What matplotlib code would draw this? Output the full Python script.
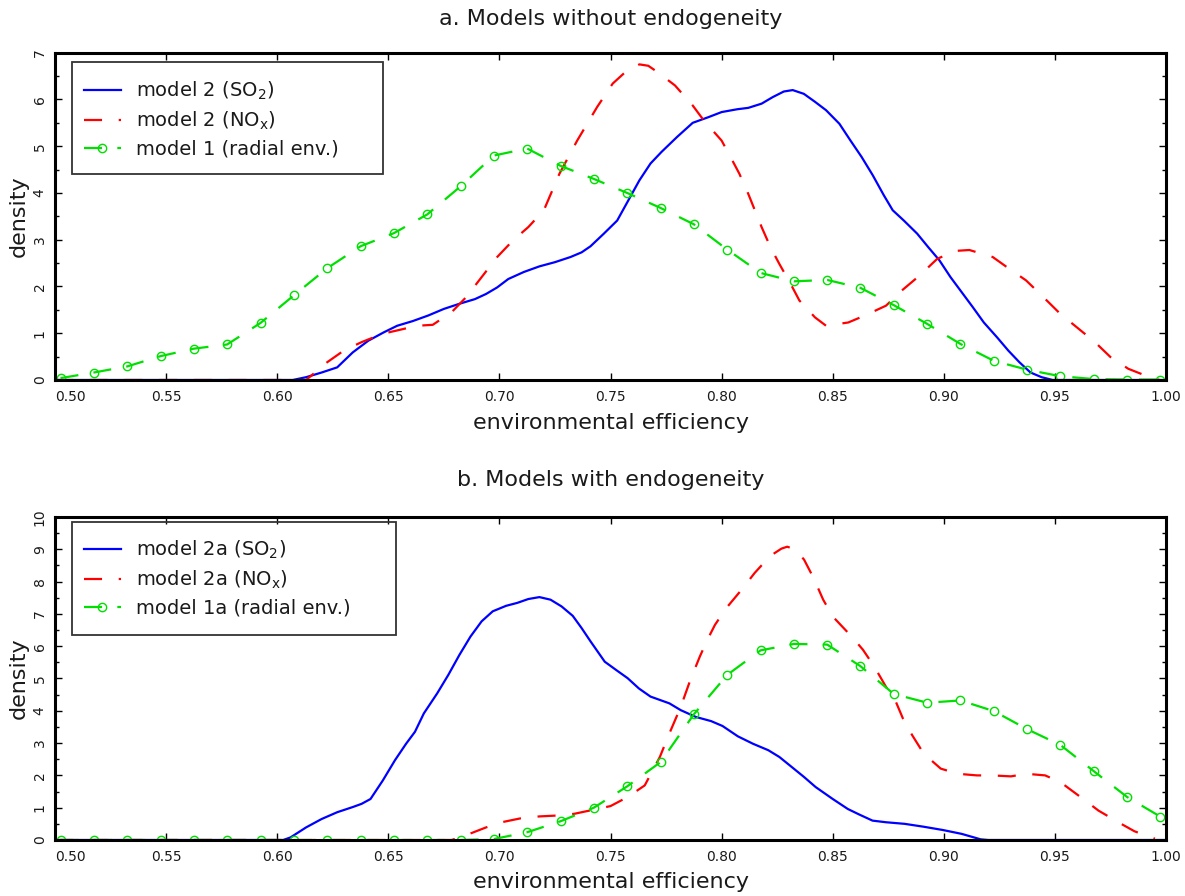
import matplotlib
matplotlib.use("Agg")
import matplotlib.pyplot as plt
from matplotlib.patches import Rectangle
from matplotlib.ticker import MultipleLocator

plt.rcParams["font.family"] = ["DejaVu Sans"]
plt.rcParams["lines.scale_dashes"] = False

# ---- panel a: models without endogeneity ----
a_so2_x = [0.500, 0.607, 0.613, 0.620, 0.627, 0.634, 0.641, 0.648, 0.654, 0.661, 0.668, 0.675,
           0.682, 0.689, 0.694, 0.699, 0.704, 0.711, 0.718, 0.725, 0.732, 0.737, 0.741, 0.747,
           0.753, 0.758, 0.763, 0.768, 0.773, 0.780, 0.787, 0.794, 0.800, 0.807, 0.812, 0.818,
           0.823, 0.828, 0.832, 0.837, 0.842, 0.847, 0.853, 0.858, 0.863, 0.868, 0.873, 0.877,
           0.882, 0.888, 0.893, 0.898, 0.903, 0.908, 0.913, 0.918, 0.924, 0.929, 0.934, 0.939,
           0.944, 0.949, 1.000]
a_so2_y = [0.00, 0.00, 0.06, 0.16, 0.27, 0.59, 0.84, 1.02, 1.16, 1.26, 1.38, 1.52,
           1.63, 1.73, 1.84, 1.98, 2.16, 2.31, 2.43, 2.52, 2.63, 2.73, 2.86, 3.13,
           3.41, 3.84, 4.27, 4.63, 4.88, 5.20, 5.50, 5.62, 5.73, 5.79, 5.82, 5.91,
           6.05, 6.17, 6.20, 6.12, 5.95, 5.77, 5.48, 5.12, 4.77, 4.38, 3.95, 3.63,
           3.41, 3.13, 2.84, 2.56, 2.20, 1.88, 1.56, 1.23, 0.91, 0.63, 0.38, 0.16,
           0.06, 0.00, 0.00]

a_nox_x = [0.500, 0.613, 0.6225, 0.630, 0.638, 0.6475, 0.654, 0.663, 0.670, 0.6785, 0.685, 0.692,
           0.699, 0.706, 0.713, 0.720, 0.727, 0.735, 0.744, 0.751, 0.757, 0.763, 0.767, 0.771,
           0.779, 0.787, 0.792, 0.800, 0.804, 0.808, 0.812, 0.818, 0.822, 0.826, 0.831, 0.835,
           0.842, 0.847, 0.857, 0.8645, 0.874, 0.881, 0.889, 0.897, 0.905, 0.9115, 0.922, 0.9285,
           0.937, 0.944, 0.9525, 0.959, 0.968, 0.975, 0.983, 0.991, 0.997]
a_nox_y = [0.00, 0.00, 0.38, 0.63, 0.81, 0.99, 1.06, 1.16, 1.18, 1.45, 1.77, 2.20,
           2.63, 2.98, 3.27, 3.63, 4.41, 5.12, 5.84, 6.34, 6.60, 6.75, 6.72, 6.59,
           6.30, 5.87, 5.55, 5.12, 4.77, 4.41, 3.98, 3.27, 2.84, 2.48, 2.06, 1.70,
           1.34, 1.16, 1.23, 1.38, 1.59, 1.91, 2.23, 2.59, 2.76, 2.78, 2.63, 2.41,
           2.13, 1.81, 1.41, 1.16, 0.81, 0.49, 0.24, 0.09, 0.00]

grid_x = [0.5025, 0.5175, 0.5325, 0.5475, 0.5625, 0.5775, 0.5925, 0.6075, 0.6225, 0.6375,
          0.6525, 0.6675, 0.6825, 0.6975, 0.7125, 0.7275, 0.7425, 0.7575, 0.7725, 0.7875,
          0.8025, 0.8175, 0.8325, 0.8475, 0.8625, 0.8775, 0.8925, 0.9075, 0.9225, 0.9375,
          0.9525, 0.9675, 0.9825, 0.9975]
a_rad_y = [0.04, 0.16, 0.29, 0.51, 0.67, 0.76, 1.22, 1.81, 2.39, 2.86,
           3.14, 3.54, 4.14, 4.80, 4.95, 4.58, 4.30, 4.00, 3.68, 3.33,
           2.79, 2.29, 2.11, 2.14, 1.97, 1.60, 1.20, 0.77, 0.41, 0.22,
           0.08, 0.02, 0.01, 0.01]

# ---- panel b: models with endogeneity ----
b_so2_x = [0.500, 0.6027, 0.606, 0.613, 0.620, 0.627, 0.634, 0.638, 0.642, 0.6475, 0.653, 0.658,
           0.662, 0.666, 0.672, 0.677, 0.682, 0.687, 0.692, 0.697, 0.703, 0.708, 0.713, 0.718,
           0.723, 0.728, 0.733, 0.737, 0.741, 0.7474, 0.7526, 0.7577, 0.7628, 0.768, 0.7765, 0.7816,
           0.7884, 0.7953, 0.8004, 0.8073, 0.8141, 0.821, 0.826, 0.8312, 0.8371, 0.8423, 0.850, 0.8568,
           0.8619, 0.8679, 0.8739, 0.8824, 0.891, 0.8995, 0.908, 0.9166, 0.920, 1.000]
b_so2_y = [0.00, 0.00, 0.08, 0.39, 0.65, 0.86, 1.02, 1.12, 1.27, 1.84, 2.47, 2.98,
           3.35, 3.92, 4.54, 5.11, 5.73, 6.30, 6.77, 7.08, 7.25, 7.34, 7.46, 7.52,
           7.44, 7.23, 6.94, 6.56, 6.15, 5.52, 5.26, 5.01, 4.69, 4.44, 4.23, 4.02,
           3.81, 3.68, 3.53, 3.21, 2.98, 2.78, 2.57, 2.28, 1.95, 1.64, 1.27, 0.96,
           0.79, 0.60, 0.55, 0.50, 0.41, 0.31, 0.19, 0.02, 0.00, 0.00]

b_nox_x = [0.500, 0.6785, 0.6854, 0.694, 0.701, 0.7095, 0.718, 0.7267, 0.7336, 0.7405, 0.750, 0.7577,
           0.7654, 0.7722, 0.7765, 0.7816, 0.7859, 0.7902, 0.7936, 0.797, 0.8021, 0.809, 0.8149, 0.8218,
           0.8269, 0.8295, 0.833, 0.8371, 0.8414, 0.8457, 0.850, 0.8585, 0.8636, 0.8687, 0.8739, 0.8781,
           0.8816, 0.8858, 0.891, 0.8986, 0.9063, 0.9149, 0.9217, 0.9302, 0.9371, 0.9456, 0.9525, 0.9627,
           0.9696, 0.9798, 0.9858, 0.995]
b_nox_y = [0.00, 0.00, 0.16, 0.39, 0.55, 0.67, 0.73, 0.76, 0.81, 0.91, 1.05, 1.33,
           1.69, 2.57, 3.30, 4.12, 4.95, 5.68, 6.20, 6.66, 7.18, 7.75, 8.27, 8.79,
           9.02, 9.08, 9.00, 8.68, 8.11, 7.44, 6.92, 6.30, 5.89, 5.37, 4.75, 4.33,
           3.76, 3.24, 2.67, 2.21, 2.05, 2.00, 2.00, 1.97, 2.05, 2.00, 1.79, 1.27,
           0.91, 0.50, 0.27, 0.04]

b_rad_y = [0.00, 0.00, 0.00, 0.00, 0.00, 0.00, 0.00, 0.00, 0.00, 0.00,
           0.00, 0.00, 0.00, 0.03, 0.24, 0.58, 1.00, 1.66, 2.41, 3.89,
           5.11, 5.87, 6.07, 6.05, 5.38, 4.52, 4.25, 4.32, 3.99, 3.43,
           2.94, 2.13, 1.33, 0.72]

x_ticks = [0.50, 0.55, 0.60, 0.65, 0.70, 0.75, 0.80, 0.85, 0.90, 0.95, 1.00]

BLUE = "#0000ff"
RED = "#ff0000"
GREEN = "#00e000"
TXT = "#1a1a1a"


def panel(ax, title, title_y, so2, nox, rad_y, labels, ymax, box, anchor_y):
    ax.plot(so2[0], so2[1], color=BLUE, lw=1.6, label=labels[0])
    ax.plot(nox[0], nox[1], color=RED, lw=1.6, dashes=(13, 12), label=labels[1])
    ax.plot(grid_x, rad_y, color=GREEN, lw=1.6, dashes=(13, 11), marker="o",
            markersize=6, markerfacecolor="none", markeredgecolor=GREEN,
            markeredgewidth=1.0, label=labels[2])

    ax.set_xlim(0.5, 1.0)
    ax.set_ylim(0, ymax)
    ax.set_xticks(x_ticks)
    ax.set_xticklabels([f"{t:.2f}" for t in x_ticks], fontsize=10, color=TXT)
    ax.get_xticklabels()[0].set_horizontalalignment("left")
    ax.yaxis.set_major_locator(MultipleLocator(1))
    ax.yaxis.set_minor_locator(MultipleLocator(0.5))
    ax.set_yticks(range(0, ymax + 1))
    ax.set_yticklabels([str(v) for v in range(0, ymax + 1)], fontsize=10,
                       rotation=90, va="center", color=TXT)
    ax.tick_params(axis="both", which="major", direction="in", length=5, width=1,
                   top=True, right=True)
    ax.tick_params(axis="y", which="minor", direction="in", length=3, width=1,
                   left=True, right=True)
    ax.tick_params(axis="x", which="major", pad=7)
    ax.tick_params(axis="y", which="major", pad=6)
    for s in ax.spines.values():
        s.set_linewidth(2.2)

    ax.set_xlabel("environmental efficiency", fontsize=16, color=TXT)
    ax.xaxis.set_label_coords(0.5, -0.13)
    ax.xaxis.label.set_va("center")
    ax.set_ylabel("density", fontsize=16, color=TXT)
    ax.yaxis.set_label_coords(-0.033, 0.5)
    ax.yaxis.label.set_va("center")
    ax.text(0.5, title_y, title, transform=ax.transAxes, ha="center", va="center",
            fontsize=16, color=TXT)

    x0, y0, x1, y1 = box
    ax.add_patch(Rectangle((x0, y0), x1 - x0, y1 - y0, transform=ax.transAxes,
                           fill=False, edgecolor="#333333", lw=1.3, zorder=5))
    leg = ax.legend(loc="upper left", bbox_to_anchor=(0.026, anchor_y), frameon=False,
                    borderpad=0, borderaxespad=0, fontsize=14, handlelength=1.9,
                    handletextpad=0.8, labelspacing=0.38, numpoints=1)
    for t in leg.get_texts():
        t.set_color(TXT)


fig = plt.figure(figsize=(11.85, 8.96), dpi=100)
ax1 = fig.add_axes([0.0464, 0.5759, 0.9376, 0.3653])
ax2 = fig.add_axes([0.0464, 0.0625, 0.9376, 0.3605])

panel(ax1, "a. Models without endogeneity", 1.104, (a_so2_x, a_so2_y), (a_nox_x, a_nox_y), a_rad_y,
      ["model 2 (SO$_2$)", "model 2 (NO$_\\mathregular{x}$)", "model 1 (radial env.)"], 7,
      (0.0153, 0.63, 0.295, 0.972), 0.916)
panel(ax2, "b. Models with endogeneity", 1.115, (b_so2_x, b_so2_y), (b_nox_x, b_nox_y), b_rad_y,
      ["model 2a (SO$_2$)", "model 2a (NO$_\\mathregular{x}$)", "model 1a (radial env.)"], 10,
      (0.0153, 0.635, 0.307, 0.985), 0.932)

fig.savefig("out.png", dpi=100)
